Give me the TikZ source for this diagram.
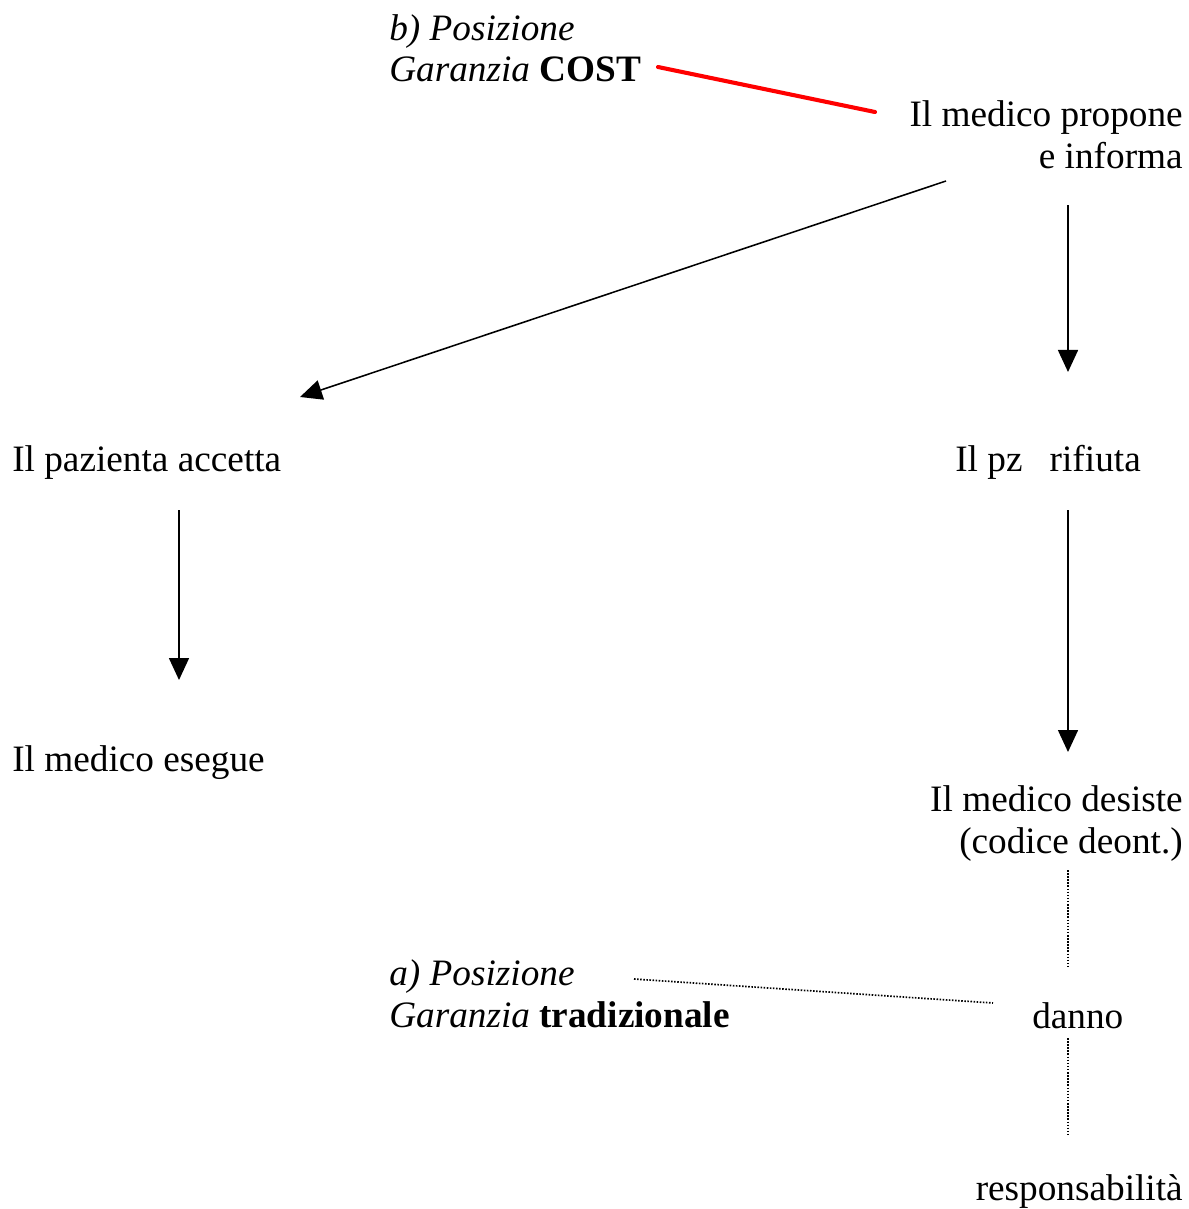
\documentclass[tikz,border=0pt]{standalone}
\usepackage{fontspec}
\setmainfont{Liberation Serif}
\usepackage{xcolor}
\usepackage{tikz}
\usetikzlibrary{arrows.meta,positioning}

\begin{document}
\begin{tikzpicture}[x=0.025cm, y=-0.025cm,
    every node/.style={inner sep=0pt, font=\fontsize{26.5}{29.5}\selectfont},
    lbox/.style={anchor=base west, align=left},
    rbox/.style={anchor=base east, align=right},
    line/.style={draw, -{Triangle[length=0.55cm, width=0.5cm]}, line width=1.1pt},
    link/.style={draw, red, line width=2.9pt, line cap=round},
    dots/.style={draw, line width=1.2pt, dash pattern=on 1.1pt off 1.1pt}]
    \useasboundingbox (0,0) rectangle (1189,1209);

    % testi
    \node [lbox] (cost) at (389,82) {\textit{b) Posizione}\\\textit{Garanzia} \textbf{COST}};
    \node [rbox] (propone) at (1183,168) {Il medico propone\\e informa};
    \node [lbox] (accetta) at (12,471) {Il pazienta accetta};
    \node [lbox] (rifiuta) at (955,471) {Il pz\hspace{0.48em} rifiuta};
    \node [lbox] (esegue) at (12,771) {Il medico esegue};
    \node [rbox] (desiste) at (1183,853) {Il medico desiste\\(codice deont.)};
    \node [lbox] (trad) at (389,1027) {\textit{a) Posizione}\\\textit{Garanzia} \textbf{tradizionale}};
    \node [lbox] (danno) at (1032,1028) {danno};
    \node [rbox] (resp) at (1183,1200) {responsabilità};

    % estremi dei collegamenti
    \coordinate (c1) at (658,67);   \coordinate (c2) at (875,112);
    \coordinate (p1) at (946,181);  \coordinate (p2) at (300,397);
    \coordinate (p3) at (1068,205); \coordinate (p4) at (1068,372);
    \coordinate (a1) at (179,510);  \coordinate (a2) at (179,680);
    \coordinate (r1) at (1068,510); \coordinate (r2) at (1068,752);
    \coordinate (d1) at (1068,870); \coordinate (d2) at (1068,967);
    \coordinate (t1) at (634,979);  \coordinate (t2) at (993,1003);
    \coordinate (d3) at (1068,1038); \coordinate (d4) at (1068,1135);

    \path [link] (c1) -- (c2);
    \path [line] (p1) -- (p2);
    \path [line] (p3) -- (p4);
    \path [line] (a1) -- (a2);
    \path [line] (r1) -- (r2);
    \path [dots] (d1) -- (d2);
    \path [dots] (t1) -- (t2);
    \path [dots] (d3) -- (d4);
\end{tikzpicture}
\end{document}
